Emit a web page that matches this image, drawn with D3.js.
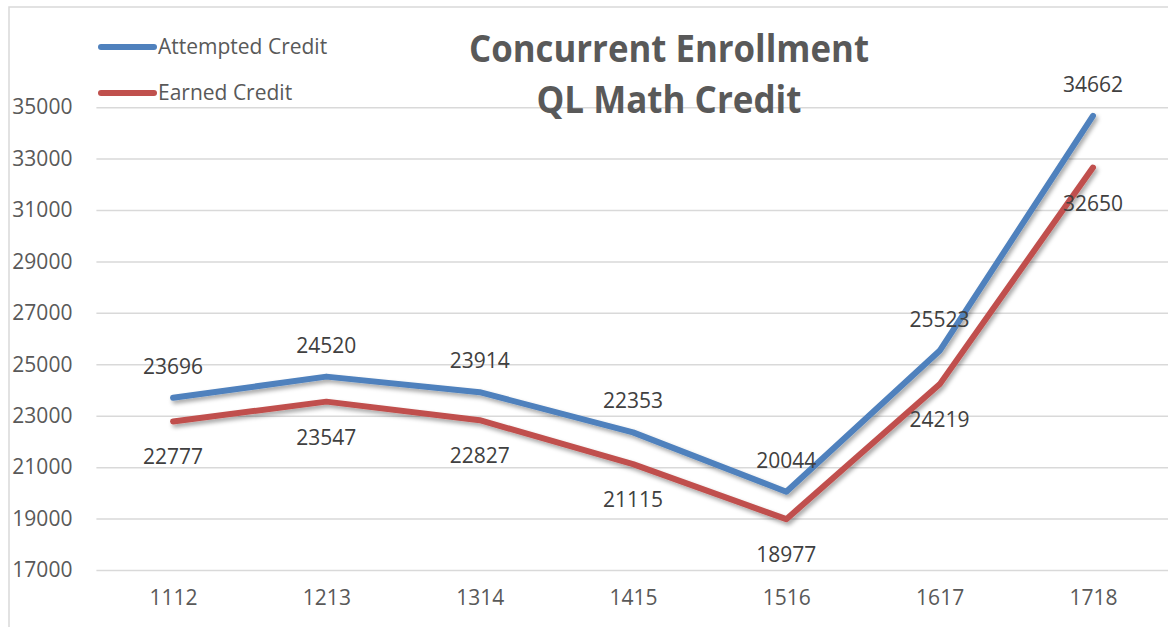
<!DOCTYPE html>
<html>
<head>
<meta charset="utf-8">
<script src="https://cdn.jsdelivr.net/npm/d3@7"></script>
<style>
  body { margin: 0; background: #fff; }
  svg { display: block; font-family: "Open Sans", "Liberation Sans", sans-serif; }
</style>
</head>
<body>
<svg></svg>
<script>
var svg_width = 1168;
var svg_height = 627;

// data
var categories = ['1112', '1213', '1314', '1415', '1516', '1617', '1718'];
var attempted = [23696, 24520, 23914, 22353, 20044, 25523, 34662];
var earned = [22777, 23547, 22827, 21115, 18977, 24219, 32650];
var series_names = ['Attempted Credit', 'Earned Credit'];
var series_colors = ['#4F81BD', '#C0504D'];
var y_ticks = [17000, 19000, 21000, 23000, 25000, 27000, 29000, 31000, 33000, 35000];
var title_lines = ['Concurrent Enrollment', 'QL Math Credit'];

var plot_left = 96.4;
var plot_right = 1169.6;
var plot_top = 55.7;
var plot_bottom = 570;

var svg = d3.select('svg')
  .attr('width', svg_width)
  .attr('height', svg_height);

// drop shadow like the Excel lines
var defs = svg.append('defs');
defs.append('filter')
  .attr('id', 'shadow')
  .attr('x', '-10%').attr('y', '-10%')
  .attr('width', '120%').attr('height', '130%')
  .append('feDropShadow')
  .attr('dx', 2).attr('dy', 3)
  .attr('stdDeviation', 2)
  .attr('flood-color', '#000')
  .attr('flood-opacity', 0.35);

// chart border (only left and top visible, the rest is cropped)
svg.append('rect')
  .attr('x', 9).attr('y', 7)
  .attr('width', 1200).attr('height', 700)
  .attr('fill', 'none')
  .attr('stroke', '#d9d9d9')
  .attr('stroke-width', 1.5);

var xScale = d3.scalePoint()
  .domain(categories)
  .range([plot_left, plot_right])
  .padding(0.5);

var yScale = d3.scaleLinear()
  .domain([17000, 37000])
  .range([plot_bottom, plot_top]);

// gridlines + y labels
var yAxis = svg.append('g')
  .attr('transform', 'translate(' + plot_left + ',0)')
  .call(d3.axisLeft(yScale)
    .tickValues(y_ticks)
    .tickSize(-(plot_right - plot_left + 10))
    .tickPadding(24)
    .tickFormat(d3.format('d')));
yAxis.select('.domain').remove();
yAxis.selectAll('.tick line')
  .attr('stroke', '#d9d9d9')
  .attr('stroke-width', 1.5);
yAxis.selectAll('.tick text')
  .attr('fill', '#595959')
  .attr('font-size', 21)
  .attr('font-family', '"Open Sans", sans-serif');

// x labels
var xAxis = svg.append('g')
  .attr('transform', 'translate(0,' + plot_bottom + ')')
  .call(d3.axisBottom(xScale).tickSize(0).tickPadding(20));
xAxis.select('.domain').remove();
xAxis.selectAll('.tick text')
  .attr('fill', '#595959')
  .attr('font-size', 21)
  .attr('font-family', '"Open Sans", sans-serif');

// lines
var all_series = [attempted, earned];
var line = d3.line()
  .x(function(d, i) { return xScale(categories[i]); })
  .y(function(d) { return yScale(d); });

svg.selectAll('path.series')
  .data(all_series)
  .enter()
  .append('path')
  .attr('class', 'series')
  .attr('d', line)
  .attr('fill', 'none')
  .attr('stroke', function(d, i) { return series_colors[i]; })
  .attr('stroke-width', 6)
  .attr('stroke-linecap', 'round')
  .attr('stroke-linejoin', 'round')
  .attr('filter', 'url(#shadow)');

// data labels: attempted above, earned below
var label_offsets = [-24, 43];
all_series.forEach(function(vals, s) {
  svg.selectAll('text.lbl' + s)
    .data(vals)
    .enter()
    .append('text')
    .attr('class', 'lbl' + s)
    .attr('x', function(d, i) { return xScale(categories[i]); })
    .attr('y', function(d) { return yScale(d) + label_offsets[s]; })
    .attr('text-anchor', 'middle')
    .attr('font-size', 21)
    .attr('fill', '#404040')
    .text(function(d) { return d; });
});

// legend
var legend = svg.append('g');
series_names.forEach(function(name, i) {
  var ly = 47 + i * 46;
  legend.append('line')
    .attr('x1', 101).attr('x2', 154)
    .attr('y1', ly).attr('y2', ly)
    .attr('stroke', series_colors[i])
    .attr('stroke-width', 6)
    .attr('stroke-linecap', 'round');
  legend.append('text')
    .attr('x', 158)
    .attr('y', ly + 7)
    .attr('font-size', 21)
    .attr('fill', '#595959')
    .text(name);
});

// title
var title_widths = [400, 265];
svg.selectAll('text.title')
  .data(title_lines)
  .enter()
  .append('text')
  .attr('class', 'title')
  .attr('x', 669)
  .attr('y', function(d, i) { return 62 + i * 51; })
  .attr('text-anchor', 'middle')
  .attr('font-size', 37)
  .attr('font-weight', 'bold')
  .attr('fill', '#595959')
  .attr('textLength', function(d, i) { return title_widths[i]; })
  .attr('lengthAdjust', 'spacingAndGlyphs')
  .text(function(d) { return d; });
</script>
</body>
</html>
